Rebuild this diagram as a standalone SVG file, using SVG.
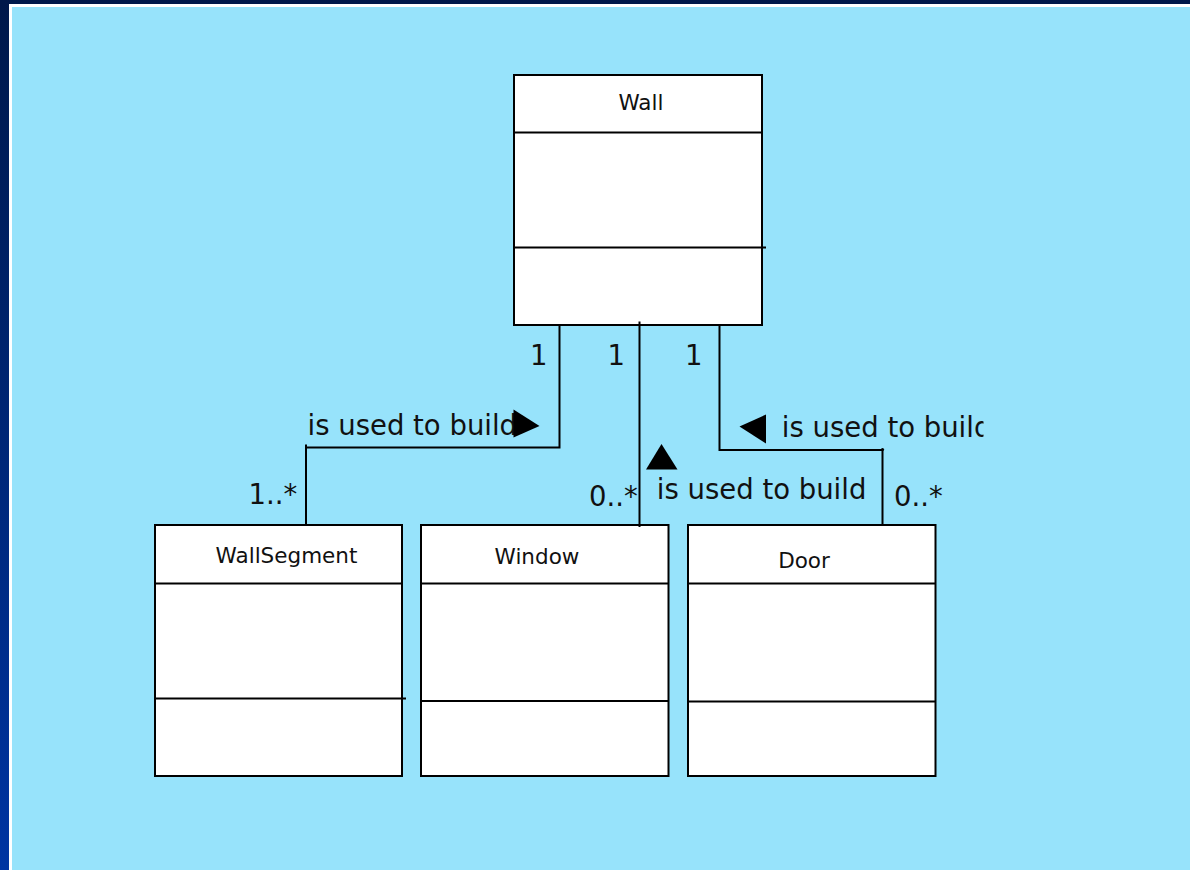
<svg xmlns="http://www.w3.org/2000/svg" width="1190" height="870" viewBox="0 0 1190 870">
<defs>
<linearGradient id="bg" x1="0" y1="0" x2="0" y2="1">
<stop offset="0" stop-color="#00184a"/>
<stop offset="1" stop-color="#0034a2"/>
</linearGradient>
<clipPath id="clipR"><rect x="700" y="380" width="283.5" height="80"/></clipPath>
<style>
.box{fill:#fff;stroke:#000;stroke-width:2}
.sep{stroke:#000;stroke-width:2;fill:none}
.name{font-family:"DejaVu Sans",sans-serif;font-size:21.5px;fill:#111;text-anchor:middle}
.lbl{font-family:"DejaVu Sans",sans-serif;font-size:27.5px;fill:#111}
.conn{stroke:#000;stroke-width:2;fill:none}
.tri{fill:#000}
</style>
</defs>
<rect x="0" y="0" width="1190" height="870" fill="url(#bg)"/>
<rect x="9" y="4" width="1181" height="866" fill="#ffffff"/>
<rect x="12" y="7" width="1178" height="863" fill="#97e3fb"/>

<g id="node-wall">
<rect class="box" x="514" y="75" width="248" height="250"/>
<line class="sep" x1="514" y1="132.5" x2="762" y2="132.5"/>
<line class="sep" x1="515" y1="247.5" x2="766" y2="247.5"/>
<text class="name" x="641" y="110">Wall</text>
</g>
<g id="node-wallsegment">
<rect class="box" x="155" y="525" width="247" height="251"/>
<line class="sep" x1="155" y1="583.5" x2="402" y2="583.5"/>
<line class="sep" x1="155" y1="698.5" x2="406" y2="698.5"/>
<text class="name" x="286.5" y="563">WallSegment</text>
</g>
<g id="node-window">
<rect class="box" x="421" y="525" width="247.5" height="251"/>
<line class="sep" x1="421" y1="583.5" x2="668.5" y2="583.5"/>
<line class="sep" x1="421" y1="701" x2="668.5" y2="701"/>
<text class="name" x="537" y="564">Window</text>
</g>
<g id="node-door">
<rect class="box" x="688" y="525" width="247.5" height="251"/>
<line class="sep" x1="688" y1="583.5" x2="935.5" y2="583.5"/>
<line class="sep" x1="688" y1="701.5" x2="935.5" y2="701.5"/>
<text class="name" x="804" y="568">Door</text>
</g>

<g id="connectors">
<polyline class="conn" points="559.5,325 559.5,447.5 306,447.5 306,525"/>
<line class="conn" x1="306" y1="444.5" x2="306" y2="448"/>
<line class="conn" x1="639.5" y1="321.5" x2="639.5" y2="527"/>
<polyline class="conn" points="719.5,325 719.5,450 882.5,450 882.5,525"/>
<circle cx="882.5" cy="449.5" r="1.6" fill="#000"/>

<text class="lbl" x="307.5" y="435">is used to build</text>
<polygon class="tri" points="513.5,409.5 539.5,426 513.5,437.5"/>
<polygon class="tri" points="661.5,444 677.5,469.5 646,469.5"/>
<text class="lbl" x="656.8" y="499">is used to build</text>
<polygon class="tri" points="739.5,426.5 766,414.5 766,443.5"/>
<text class="lbl" x="781.8" y="437" clip-path="url(#clipR)">is used to build</text>

<text class="lbl" x="530" y="365">1</text>
<text class="lbl" x="607.5" y="365">1</text>
<text class="lbl" x="685" y="365">1</text>
<text class="lbl" x="248.5" y="503.5">1..*</text>
<text class="lbl" x="589" y="506">0..*</text>
<text class="lbl" x="894" y="506">0..*</text>
</g>
</svg>
